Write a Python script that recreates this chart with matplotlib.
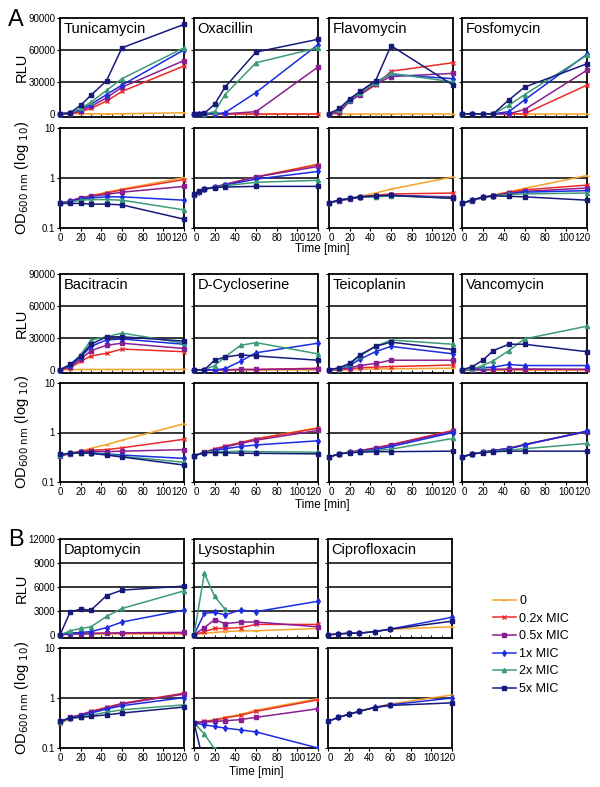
import numpy as np
import matplotlib
matplotlib.use('Agg')
import matplotlib.pyplot as plt
import matplotlib.transforms as mtransforms
from matplotlib.lines import Line2D

plt.rcParams['font.family'] = ['Liberation Sans', 'DejaVu Sans']

nan = np.nan

# concentrations (legend) and their styles
conc = ['0', '0.2x MIC', '0.5x MIC', '1x MIC', '2x MIC', '5x MIC']
colors = ['#F5A32A', '#EC2A2A', '#8A1F91', '#1C2DE0', '#3C9C77', '#161A7A']
markers = ['_', 'x', 's', 'd', '^', 's']

t = [0, 10, 20, 30, 45, 60, 120]
t_oxa = [0, 5, 10, 20, 30, 60, 120]

# ---- Panel A, RLU (order: 0, 0.2x, 0.5x, 1x, 2x, 5x)
tuni_rlu = [[0, 0, 0, 0, 0, 0, 1000],
            [0, 0, 2000, 5000, 12000, 21000, 45000],
            [0, 300, 3000, 7000, 15000, 25000, 50000],
            [0, 500, 4000, 9000, 18000, 27000, 60000],
            [0, 500, 5000, 11000, 22000, 33000, 62000],
            [0, 1000, 8000, 17500, 31000, 62000, 84000]]
oxa_rlu = [[0, 0, 0, 0, 0, 0, 0],
           [0, 0, 0, 0, 0, 0, 0],
           [0, 0, 0, 0, 0, 2000, 44000],
           [0, 0, 0, 0, 1000, 20000, 65000],
           [0, 0, 0, 2000, 18000, 48000, 62000],
           [0, 0, 500, 9000, 25000, 58000, 70000]]
flavo_rlu = [[0, 0, 0, 0, 0, 0, 0],
             [0, 1000, 12000, 18000, 27000, 40000, 48000],
             [0, 2000, 12000, 18000, 28000, 35000, 38000],
             [0, 4000, 13000, 20000, 30000, 37000, 33000],
             [0, 4000, 13000, 20000, 29000, 38000, 30000],
             [0, 5000, 14000, 21000, 31000, 64000, 27000]]
fosfo_rlu = [[0, 0, 0, 0, 0, 0, 0],
             [0, 0, 0, 0, 0, 0, 27000],
             [0, 0, 0, 0, 0, 4000, 41000],
             [0, 0, 0, 0, 2000, 13000, 56000],
             [0, 0, 0, 0, 8000, 18000, 55000],
             [0, 0, 0, 0, 13000, 25000, 47000]]

# ---- Panel A, OD600
tuni_od = [[0.31, 0.35, 0.40, 0.44, 0.52, 0.60, 1.02],
           [0.31, 0.35, 0.40, 0.44, 0.50, 0.58, 0.93],
           [0.31, 0.35, 0.40, 0.43, 0.47, 0.52, 0.68],
           [0.31, 0.34, 0.38, 0.40, 0.42, 0.42, 0.36],
           [0.31, 0.33, 0.36, 0.37, 0.37, 0.36, 0.23],
           [0.31, 0.31, 0.31, 0.30, 0.30, 0.29, 0.15]]
oxa_od = [[0.45, 0.52, 0.60, 0.66, 0.75, 1.05, 1.90],
          [0.45, 0.52, 0.60, 0.66, 0.74, 1.05, 1.85],
          [0.45, 0.52, 0.60, 0.66, 0.74, 1.05, 1.70],
          [0.46, 0.53, 0.60, 0.66, 0.72, 0.95, 1.35],
          [0.47, 0.54, 0.60, 0.65, 0.70, 0.82, 0.90],
          [0.48, 0.55, 0.60, 0.64, 0.66, 0.68, 0.68]]
flavo_od = [[0.32, 0.36, 0.39, 0.43, 0.50, 0.60, 1.05],
            [0.32, 0.36, 0.39, 0.42, 0.45, 0.48, 0.50],
            [0.32, 0.35, 0.38, 0.41, 0.43, 0.45, 0.42],
            [0.32, 0.36, 0.39, 0.42, 0.43, 0.45, 0.40],
            [0.32, 0.36, 0.39, 0.42, 0.42, 0.44, 0.40],
            [0.32, 0.36, 0.39, 0.42, 0.44, 0.45, 0.39]]
fosfo_od = [[0.31, 0.36, 0.41, 0.45, 0.53, 0.62, 1.12],
            [0.31, 0.36, 0.41, 0.45, 0.52, 0.58, 0.72],
            [0.31, 0.35, 0.41, 0.44, 0.50, 0.54, 0.63],
            [0.31, 0.36, 0.41, 0.44, 0.48, 0.52, 0.56],
            [0.31, 0.36, 0.41, 0.44, 0.47, 0.48, 0.50],
            [0.31, 0.37, 0.41, 0.44, 0.43, 0.42, 0.36]]

# ---- Panel A second row, RLU
baci_rlu = [[0, 200, 300, 300, 300, 300, 300],
            [0, 2000, 8000, 13000, 15500, 19500, 17000],
            [0, 3000, 10000, 18000, 23000, 25000, 20000],
            [0, 4000, 12000, 22000, 28000, 29000, 24000],
            [0, 5000, 14000, 28000, 31000, 34500, 25000],
            [0, 5000, 13000, 24000, 31000, 31000, 27000]]
dcyc_rlu = [[0, 0, 0, 0, 0, 0, 0],
            [0, 0, 0, 0, 300, 300, 1500],
            [0, 0, 0, 0, 300, 300, 1000],
            [0, 0, 0, 1000, 8000, 16000, 25000],
            [0, 0, 4000, 12000, 23000, 25500, 15000],
            [0, 0, 9000, 12000, 14000, 13000, 9000]]
teico_rlu = [[0, 0, 200, 500, 800, 1000, 1500],
             [0, 0, 1000, 2000, 2500, 3000, 4500],
             [0, 500, 2000, 4000, 6000, 9000, 9000],
             [0, 1000, 4000, 10000, 17000, 22000, 15000],
             [0, 1000, 5000, 13000, 22000, 28000, 24000],
             [0, 2000, 6000, 14000, 22000, 26000, 19000]]
vanco_rlu = [[0, 0, 0, 0, 0, 0, 0],
             [0, 0, 200, 200, 200, 200, 200],
             [0, 0, 0, 500, 700, 800, 500],
             [0, 1000, 2000, 2500, 5000, 4000, 4000],
             [0, 500, 4000, 8500, 18000, 29000, 41000],
             [0, 3000, 9000, 18000, 24000, 24000, 17000]]

# ---- Panel A second row, OD600
baci_od = [[0.34, 0.38, 0.42, 0.48, 0.57, 0.70, 1.50],
           [0.34, 0.38, 0.42, 0.44, 0.45, 0.49, 0.73],
           [0.34, 0.37, 0.40, 0.42, 0.41, 0.42, 0.45],
           [0.35, 0.38, 0.40, 0.39, 0.37, 0.35, 0.30],
           [0.35, 0.38, 0.39, 0.38, 0.36, 0.33, 0.25],
           [0.36, 0.38, 0.39, 0.38, 0.35, 0.32, 0.22]]
dcyc_od = [[0.34, 0.40, 0.47, 0.53, 0.63, 0.75, 1.25],
           [0.34, 0.40, 0.46, 0.53, 0.62, 0.74, 1.22],
           [0.34, 0.40, 0.45, 0.51, 0.60, 0.70, 1.10],
           [0.34, 0.39, 0.43, 0.47, 0.52, 0.56, 0.68],
           [0.34, 0.40, 0.41, 0.41, 0.42, 0.41, 0.40],
           [0.34, 0.39, 0.39, 0.39, 0.38, 0.38, 0.37]]
teico_od = [[0.32, 0.37, 0.40, 0.43, 0.48, 0.56, 1.08],
            [0.32, 0.37, 0.40, 0.43, 0.49, 0.57, 1.10],
            [0.32, 0.37, 0.40, 0.43, 0.48, 0.56, 1.05],
            [0.32, 0.37, 0.40, 0.42, 0.45, 0.52, 1.00],
            [0.32, 0.37, 0.40, 0.41, 0.43, 0.46, 0.76],
            [0.32, 0.37, 0.39, 0.40, 0.41, 0.41, 0.42]]
vanco_od = [[0.32, 0.37, 0.40, 0.43, 0.48, 0.57, 1.05],
            [0.32, 0.37, 0.40, 0.43, 0.48, 0.57, 1.06],
            [0.32, 0.37, 0.40, 0.43, 0.48, 0.57, 1.04],
            [0.32, 0.37, 0.40, 0.43, 0.47, 0.56, 1.07],
            [0.32, 0.37, 0.40, 0.42, 0.44, 0.47, 0.60],
            [0.32, 0.37, 0.39, 0.41, 0.42, 0.42, 0.42]]

# ---- Panel B, RLU
dapto_rlu = [[0, 100, 100, 100, 100, 100, 100],
             [0, 200, 200, 200, 200, 200, 200],
             [0, 100, 100, 150, 200, 250, 300],
             [0, 200, 300, 400, 900, 1600, 3100],
             [0, 500, 800, 1000, 2300, 3300, 5500],
             [0, 2900, 3200, 3100, 4900, 5600, 6100]]
lyso_rlu = [[0, 200, 300, 400, 500, 500, 800],
            [0, 400, 800, 800, 900, 1300, 1300],
            [0, 900, 1900, 1400, 1600, 1600, 1000],
            [0, 2700, 2800, 2500, 3100, 2900, 4200],
            [0, 7700, 4800, 3200, nan, nan, nan],
            [0, nan, nan, nan, nan, nan, nan]]
cipro_rlu = [[0, 100, 200, 200, 400, 700, 1000],
             [nan] * 7,
             [nan] * 7,
             [0, 100, 200, 200, 400, 700, 2200],
             [nan] * 7,
             [0, 100, 200, 200, 400, 700, 1700]]

# ---- Panel B, OD600
dapto_od = [[0.30, 0.40, 0.46, 0.54, 0.63, 0.78, 1.20],
            [0.32, 0.41, 0.46, 0.54, 0.65, 0.78, 1.25],
            [0.33, 0.41, 0.46, 0.53, 0.63, 0.76, 1.20],
            [0.34, 0.40, 0.44, 0.50, 0.60, 0.70, 1.02],
            [0.33, 0.39, 0.42, 0.45, 0.52, 0.58, 0.73],
            [0.34, 0.40, 0.41, 0.43, 0.46, 0.50, 0.66]]
lyso_od = [[0.32, 0.34, 0.37, 0.41, 0.47, 0.57, 0.97],
           [0.32, 0.34, 0.36, 0.40, 0.45, 0.54, 0.92],
           [0.32, 0.33, 0.34, 0.35, 0.37, 0.41, 0.61],
           [0.32, 0.29, 0.27, 0.25, 0.23, 0.21, 0.10],
           [0.32, 0.19, 0.095, nan, nan, nan, nan],
           [0.32, 0.045, nan, nan, nan, nan, nan]]
cipro_od = [[0.34, 0.41, 0.47, 0.54, 0.65, 0.76, 1.15],
            [nan] * 7,
            [nan] * 7,
            [0.34, 0.41, 0.47, 0.54, 0.65, 0.73, 1.00],
            [nan] * 7,
            [0.34, 0.41, 0.47, 0.54, 0.64, 0.71, 0.80]]

W, H = 600, 787
fig = plt.figure(figsize=(W / 100, H / 100), dpi=100)
TICK_FS = 7


def box(x0, x1, y0, y1):
    # pixel box -> figure fraction
    return [x0 / W, 1 - y1 / H, (x1 - x0) / W, (y1 - y0) / H]


def draw(ax, times, data, clip=False):
    for k in range(6):
        ax.plot(times, data[k], color=colors[k], marker=markers[k], ms=3,
                mew=1, lw=1.1, clip_on=clip, zorder=3 + k)


def style(ax):
    for s in ax.spines.values():
        s.set_linewidth(1.3)
    ax.set_xlim(0, 120)
    ax.tick_params(labelsize=TICK_FS, length=2.5, width=0.8, pad=1)


def rlu_axes(pos, title, times, data, ymax, nstep, first):
    ax = fig.add_axes(pos)
    style(ax)
    levels = [ymax * i / nstep for i in range(nstep + 1)]
    ax.set_ylim(-ymax / 30, ymax)
    ax.set_yticks(levels)
    for g in levels[1:-1]:
        ax.axhline(g, color='k', lw=1.1, zorder=1)
    ax.set_xticks(np.arange(0, 121, 20))
    ax.set_xticks(np.arange(0, 121, 10), minor=True)
    ax.tick_params(axis='x', which='both', direction='in', labelbottom=False,
                   length=2)
    if first:
        ax.set_yticklabels([f'{int(v)}' for v in levels])
    else:
        ax.set_yticklabels([])
    draw(ax, times, data)
    ax.text(0.03, 0.96, title, transform=ax.transAxes, ha='left', va='top',
            fontsize=10.5)
    return ax


def od_axes(pos, times, data, first, clip=False):
    ax = fig.add_axes(pos)
    style(ax)
    ax.set_yscale('log')
    ax.set_ylim(0.1, 10)
    ax.set_yticks([0.1, 1, 10])
    ax.yaxis.set_minor_locator(matplotlib.ticker.NullLocator())
    ax.axhline(1, color='k', lw=1.1, zorder=1)
    ax.set_xticks(np.arange(0, 121, 20))
    if first:
        ax.set_yticklabels(['0.1', '1', '10'])
    else:
        ax.set_yticklabels([])
    # nudge the end labels apart so neighbouring panels do not collide
    labels = ax.get_xticklabels()
    labels[-1].set_transform(labels[-1].get_transform() +
                             mtransforms.ScaledTranslation(-3 / 72, 0, fig.dpi_scale_trans))
    if not first:
        labels[0].set_transform(labels[0].get_transform() +
                                mtransforms.ScaledTranslation(1.5 / 72, 0, fig.dpi_scale_trans))
    draw(ax, times, data, clip)
    return ax


cols_A = [(60, 184), (194, 318), (329, 453), (462, 587)]
cols_B = [(60, 184), (194, 318), (328, 452)]

rowA1 = [('Tunicamycin', t, tuni_rlu, tuni_od),
         ('Oxacillin', t_oxa, oxa_rlu, oxa_od),
         ('Flavomycin', t, flavo_rlu, flavo_od),
         ('Fosfomycin', t, fosfo_rlu, fosfo_od)]
rowA2 = [('Bacitracin', t, baci_rlu, baci_od),
         ('D-Cycloserine', t, dcyc_rlu, dcyc_od),
         ('Teicoplanin', t, teico_rlu, teico_od),
         ('Vancomycin', t, vanco_rlu, vanco_od)]
rowB = [('Daptomycin', t, dapto_rlu, dapto_od),
        ('Lysostaphin', t, lyso_rlu, lyso_od),
        ('Ciprofloxacin', t, cipro_rlu, cipro_od)]

rows = [(rowA1, cols_A, (18, 117), (128, 228), 90000, 3),
        (rowA2, cols_A, (274, 373), (383, 482), 90000, 3),
        (rowB, cols_B, (539, 638), (648, 748), 12000, 4)]

for panels, cols, ry, oy, ymax, nstep in rows:
    for j, (name, times, rlu, od) in enumerate(panels):
        x0, x1 = cols[j]
        rlu_axes(box(x0, x1, *ry), name, times, rlu, ymax, nstep, j == 0)
        od_axes(box(x0, x1, *oy), times, od, j == 0,
                clip=(name == 'Lysostaphin'))
    # axis labels on left
    fig.text(22 / W, 1 - (ry[0] + ry[1]) / 2 / H, 'RLU', rotation=90,
             ha='center', va='center', fontsize=10.5)
    fig.text(22 / W, 1 - (oy[0] + oy[1]) / 2 / H,
             r'OD$_{600\ \mathrm{nm}}$ (log $_{10}$)', rotation=90,
             ha='center', va='center', fontsize=10.5)

fig.text(322 / W, 1 - 249 / H, 'Time [min]', ha='center', va='center', fontsize=8.5)
fig.text(322 / W, 1 - 505 / H, 'Time [min]', ha='center', va='center', fontsize=8.5)
fig.text(256 / W, 1 - 772 / H, 'Time [min]', ha='center', va='center', fontsize=8.5)

fig.text(8 / W, 1 - 20 / H, 'A', fontsize=17, ha='left', va='center')
fig.text(8 / W, 1 - 540 / H, 'B', fontsize=17, ha='left', va='center')

handles = [Line2D([], [], color=colors[k], marker=markers[k], ms=3, mew=1,
                  lw=1.1) for k in range(6)]
fig.legend(handles, conc, loc='upper left',
           bbox_to_anchor=(488 / W, 1 - 590 / H), frameon=False,
           fontsize=9, handlelength=1.8, handletextpad=0.3,
           labelspacing=0.45, borderaxespad=0)

fig.savefig('out.png', dpi=100)
